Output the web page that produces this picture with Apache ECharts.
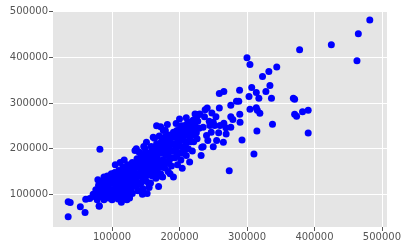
<!DOCTYPE html>
<html>
<head>
<meta charset="utf-8">
<script src="https://cdn.jsdelivr.net/npm/echarts@6/dist/echarts.min.js"></script>
<style>html,body{margin:0;padding:0;background:#fff}#c{width:407px;height:252px}</style>
</head>
<body>
<div id="c"></div>
<script>
const xTicks = [100000, 200000, 300000, 400000, 500000];
const yTicks = [100000, 200000, 300000, 400000, 500000];

const xValues = [
  35000,38000,35000,53000,60000,61000,67000,81000,82000,79000,88000,104800,113800,81000,
  72000,75000,76000,78000,80000,80000,82000,84000,85000,86000,88000,88000,90000,90000,92000,93000,94000,95000,96000,97000,98000,99000,100000,100000,
  101000,102000,103000,104000,105000,106000,107000,108000,109000,110000,110000,111000,112000,113000,114000,115000,116000,117000,118000,119000,120000,120000,121000,122000,123000,124000,125000,126000,127000,128000,129000,130000,130000,112000,118000,122000,126000,
  131000,132000,133000,134000,135000,136000,137000,138000,139000,140000,140000,141000,142000,143000,144000,145000,146000,147000,148000,149000,150000,150000,151000,152000,152000,153000,154000,155000,156000,157000,158000,159000,160000,160000,147000,136000,145000,155000,
  161000,162000,163000,163000,164000,165000,166000,167000,168000,169000,170000,170000,171000,172000,173000,174000,175000,175000,176000,177000,178000,179000,180000,180000,181000,182000,183000,184000,185000,186000,187000,188000,189000,190000,166000,172000,182000,191000,186000,
  191000,192000,193000,194000,195000,196000,197000,198000,199000,200000,201000,202000,203000,204000,205000,206000,207000,208000,209000,210000,211000,212000,213000,214000,215000,216000,217000,218000,219000,220000,200000,195000,210000,
  223000,225000,228000,230000,232000,233000,235000,235000,237000,240000,241000,242000,244000,245000,247000,248000,250000,250000,252000,255000,258000,259000,259000,260000,265000,222000,226000,238000,254000,228000,
  103000,106000,108000,111000,114000,116000,117000,119000,121000,123000,124000,127000,128000,129000,105000,109000,113000,115000,119000,125000,
  131000,133000,135000,137000,138000,139000,141000,142000,143000,144000,146000,147000,148000,149000,151000,153000,154000,156000,157000,158000,159000,160000,
  161000,162000,164000,165000,167000,168000,169000,171000,173000,174000,176000,177000,178000,179000,181000,183000,184000,185000,187000,189000,
  192000,194000,196000,198000,199000,201000,203000,204000,206000,208000,211000,213000,215000,217000,219000,221000,223000,225000,227000,229000,
  482000,465000,425000,378000,463000,300000,304400,344100,332400,323000,334000,307000,328000,313800,289000,265700,303000,317600,336300,368700,370600,287800,276000,284400,304400,313800,315300,319100,289300,276000,279000,370600,373500,382300,390700,289700,337800,265700,268700,276000,269100,314700,390700,292600,310300,273700
];
const yValues = [
  84000,82000,51000,73000,60000,89000,91000,75000,199000,132000,138000,165000,82600,74000,
  100000,95000,110000,88000,105000,120000,95000,112000,128000,100000,118000,88000,130000,108000,98000,140000,120000,92000,112000,132000,102000,145000,88000,125000,
  110000,135000,95000,148000,120000,105000,128000,140000,90000,115000,152000,132000,100000,122000,145000,110000,160000,95000,135000,125000,150000,105000,118000,140000,165000,98000,130000,112000,155000,145000,120000,170000,102000,170000,175000,88000,92000,
  135000,150000,118000,196000,160000,128000,178000,108000,145000,193000,170000,122000,155000,185000,138000,165000,112000,175000,148000,200000,130000,160000,214000,102000,180000,142000,190000,155000,170000,125000,205000,145000,185000,165000,205000,200000,100000,115000,
  225000,175000,150000,223000,195000,135000,210000,180000,160000,117000,200000,228000,168000,145000,190000,222000,138000,175000,240000,205000,158000,240000,185000,215000,170000,195000,150000,230000,205000,178000,212000,162000,225000,195000,250000,248000,253000,138000,145000,
  236000,210000,180000,225000,200000,240000,165000,218000,190000,232000,205000,175000,250000,157000,220000,195000,240000,251000,210000,185000,230000,256000,200000,245000,171000,258000,215000,235000,195000,262000,265000,255000,268000,
  276000,265000,275000,276000,185000,203000,204000,247000,270000,229000,289000,218000,260000,251000,236000,278000,258000,204000,251000,218000,235000,289000,321000,251000,214000,240000,222000,285000,270000,274600,
  125000,138000,112000,98000,128000,118000,142000,108000,130000,115000,148000,125000,108000,138000,100000,132000,108000,135000,155000,160000,
  145000,165000,140000,120000,160000,175000,140000,170000,125000,158000,145000,188000,130000,170000,150000,165000,125000,185000,150000,175000,195000,140000,
  160000,200000,170000,185000,150000,200000,140000,212000,160000,200000,165000,190000,225000,170000,205000,185000,170000,220000,195000,180000,
  225000,200000,185000,235000,210000,245000,220000,190000,230000,205000,215000,240000,225000,250000,230000,215000,250000,235000,260000,245000,
  482000,451500,427600,416700,392800,399300,384100,379000,369000,358000,338500,334000,325400,323000,328000,325400,314500,310200,310200,310200,308000,303700,295000,303700,286300,289800,284100,277600,275400,270200,263700,275400,271100,281100,284100,258000,253700,255900,245700,247200,232000,238500,234100,218900,188500,151500
];

const points = xValues.map((x, i) => [x, yValues[i]]);

const chart = echarts.init(document.getElementById('c'), null, {renderer: 'canvas'});
const labelStyle = {color: '#555555', fontSize: 10, fontFamily: 'DejaVu Sans'};
chart.setOption({
  animation: false,
  backgroundColor: '#ffffff',
  grid: {left: 53, right: 20, top: 11, bottom: 25, containLabel: false, outerBoundsMode: 'none',
         show: true, backgroundColor: '#E5E5E5', borderWidth: 0},
  xAxis: {
    type: 'value', min: 12500, max: 507500,
    axisLine: {show: false},
    axisTick: {show: true, inside: false, length: 4, lineStyle: {color: '#555555', width: 1}, customValues: xTicks},
    axisLabel: Object.assign({margin: 5, customValues: xTicks, formatter: v => String(v)}, labelStyle),
    splitLine: {show: true, lineStyle: {color: '#ffffff', width: 1}}
  },
  yAxis: {
    type: 'value', min: 28500, max: 501500,
    axisLine: {show: false},
    axisTick: {show: true, inside: false, length: 4, lineStyle: {color: '#555555', width: 1}, customValues: yTicks},
    axisLabel: Object.assign({margin: 5, customValues: yTicks, formatter: v => String(v)}, labelStyle),
    splitLine: {show: true, lineStyle: {color: '#ffffff', width: 1}}
  },
  series: [{
    type: 'scatter',
    data: points,
    symbol: 'circle',
    symbolSize: 7,
    itemStyle: {color: '#0000ff', opacity: 1},
    emphasis: {disabled: true}
  }]
});
</script>
</body>
</html>
